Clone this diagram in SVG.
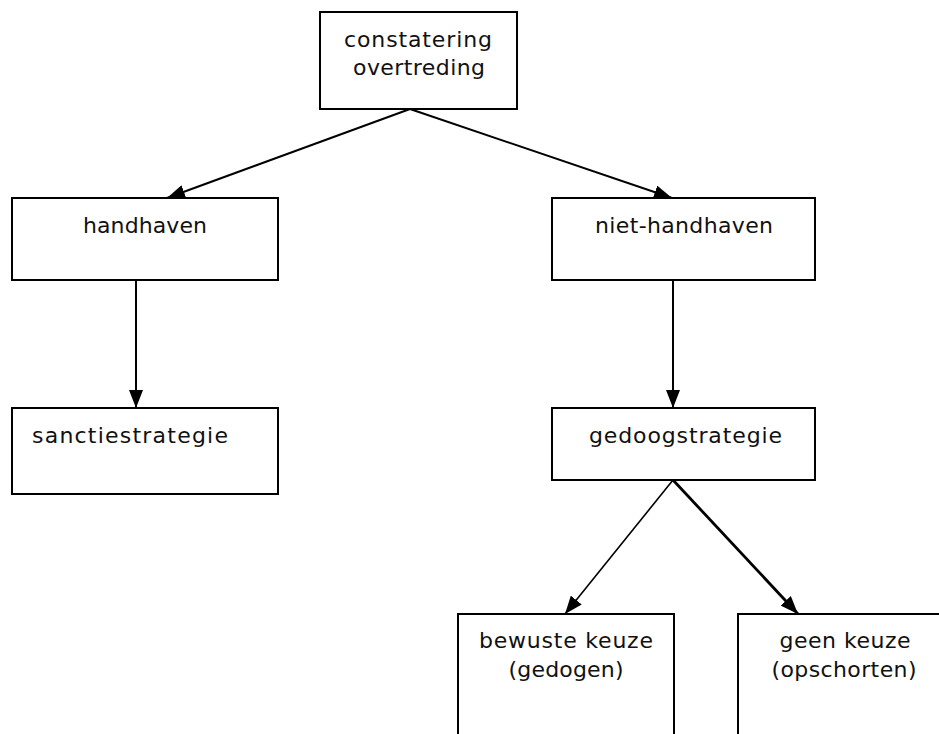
<svg xmlns="http://www.w3.org/2000/svg" width="939" height="734" viewBox="0 0 939 734">
<style>
.box{fill:#fff;stroke:#000;stroke-width:2}
.t{font-family:"DejaVu Sans",Verdana,sans-serif;font-size:22px;fill:#111}
.c{text-anchor:middle}
.ln{stroke:#000;stroke-width:2;fill:none}
</style>
<defs>
<marker id="ah" viewBox="0 0 18 14" refX="18" refY="7" markerWidth="18" markerHeight="14" markerUnits="userSpaceOnUse" orient="auto">
<path d="M0,0 L18,7 L0,14 Z" fill="#000"/>
</marker>
</defs>
<rect width="939" height="734" fill="#fff"/>
<g id="connectors">
<line class="ln" x1="410" y1="109" x2="167" y2="198" marker-end="url(#ah)"/>
<line class="ln" x1="410" y1="109" x2="672" y2="198" marker-end="url(#ah)"/>
<line class="ln" x1="136" y1="280" x2="136" y2="408" marker-end="url(#ah)"/>
<line class="ln" x1="673" y1="280" x2="673" y2="408" marker-end="url(#ah)"/>
<line class="ln" style="stroke-width:1.6" x1="673" y1="480" x2="565" y2="614" marker-end="url(#ah)"/>
<line class="ln" style="stroke-width:2.8" x1="673" y1="480" x2="798" y2="614" marker-end="url(#ah)"/>
</g>
<g id="constatering">
<rect class="box" x="320" y="12" width="197" height="97"/>
<text class="t c" x="418" y="47" textLength="148">constatering</text>
<text class="t c" x="419" y="75" textLength="132">overtreding</text>
</g>
<g id="handhaven">
<rect class="box" x="12" y="198" width="266" height="82"/>
<text class="t c" x="145" y="233" textLength="124">handhaven</text>
</g>
<g id="niet-handhaven">
<rect class="box" x="552" y="198" width="263" height="82"/>
<text class="t c" x="684" y="233" textLength="178">niet-handhaven</text>
</g>
<g id="sanctiestrategie">
<rect class="box" x="12" y="408" width="266" height="86"/>
<text class="t" x="32" y="443" textLength="196">sanctiestrategie</text>
</g>
<g id="gedoogstrategie">
<rect class="box" x="552" y="408" width="263" height="72"/>
<text class="t" x="589" y="443" textLength="193">gedoogstrategie</text>
</g>
<g id="bewuste-keuze">
<rect class="box" x="458" y="614" width="216" height="140"/>
<text class="t c" x="566" y="648" textLength="174">bewuste keuze</text>
<text class="t c" x="566" y="677" textLength="115">(gedogen)</text>
</g>
<g id="geen-keuze">
<rect class="box" x="738" y="614" width="216" height="140"/>
<text class="t c" x="845" y="648" textLength="131">geen keuze</text>
<text class="t c" x="844" y="677" textLength="145">(opschorten)</text>
</g>
</svg>
